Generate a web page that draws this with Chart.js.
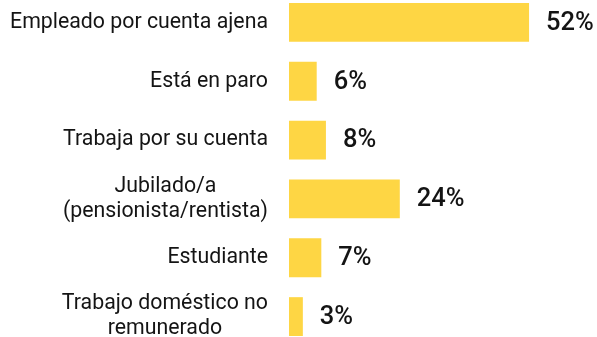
<!DOCTYPE html>
<html>
<head>
<meta charset="utf-8">
<script src="https://cdn.jsdelivr.net/npm/chart.js@4"></script>
<style>
  html, body { margin: 0; padding: 0; background: #fff; overflow: hidden; }
  #wrap { position: relative; width: 597px; height: 337px; }
  #situacion { position: absolute; left: 0; top: -7px; }
</style>
</head>
<body>
<div id="wrap">
  <canvas id="situacion" width="597" height="353"></canvas>
</div>
<script>
// situación laboral (%)
const categories = [
  ['Empleado por cuenta ajena'],
  ['Está en paro'],
  ['Trabaja por su cuenta'],
  ['Jubilado/a', '(pensionista/rentista)'],
  ['Estudiante'],
  ['Trabajo doméstico no', 'remunerado'],
];
const values = [52, 6, 8, 24, 7, 3];
const xMax = 60;

const barColor = '#FED644';
const textColor = '#141414';
const fontFamily = 'Roboto, "Noto Sans", sans-serif';

// category labels (right-aligned block, lines centred) and value labels
const labelPlugin = {
  id: 'labelPlugin',
  afterDraw(chart) {
    const { ctx, chartArea, scales } = chart;
    const meta = chart.getDatasetMeta(0);
    ctx.save();
    ctx.fillStyle = textColor;
    ctx.textBaseline = 'middle';

    // left labels
    ctx.font = '21.3px ' + fontFamily;
    const right = chartArea.left - 21;
    const lineH = 25;
    categories.forEach((lines, i) => {
      const y = scales.y.getPixelForValue(i);
      const widest = Math.max(...lines.map(l => ctx.measureText(l).width));
      const cx = right - widest / 2;
      ctx.textAlign = 'center';
      lines.forEach((line, j) => {
        const ly = y + (j - (lines.length - 1) / 2) * lineH;
        ctx.fillText(line, cx, ly);
      });
    });

    // value labels
    ctx.font = '500 25.5px ' + fontFamily;
    ctx.textAlign = 'left';
    meta.data.forEach((bar, i) => {
      ctx.fillText(values[i] + '%', bar.x + 17, bar.y + 1);
    });
    ctx.restore();
  }
};

new Chart(document.getElementById('situacion'), {
  type: 'bar',
  data: {
    labels: categories,
    datasets: [{
      data: values,
      backgroundColor: barColor,
      borderWidth: 0,
      categoryPercentage: 1,
      barPercentage: 0.66,
    }],
  },
  options: {
    indexAxis: 'y',
    responsive: false,
    animation: false,
    layout: { padding: { left: 289, right: 31, top: 0, bottom: 0 } },
    scales: {
      x: { display: false, min: 0, max: xMax },
      y: { display: false },
    },
    plugins: {
      legend: { display: false },
      tooltip: { enabled: false },
    },
  },
  plugins: [labelPlugin],
});
</script>
</body>
</html>
